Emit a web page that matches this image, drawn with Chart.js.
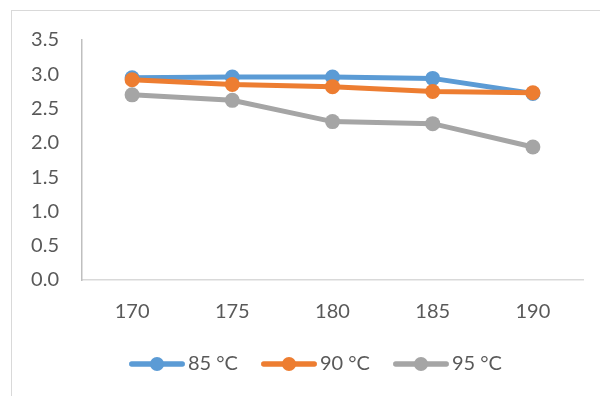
<!DOCTYPE html>
<html>
<head>
<meta charset="utf-8">
<script src="https://cdn.jsdelivr.net/npm/chart.js@4.4.0/dist/chart.umd.min.js"></script>
<style>
    html, body { margin: 0; padding: 0; background: #fff; }
    #wrap { position: relative; width: 600px; height: 396px; overflow: hidden; }
    #frame { position: absolute; left: 11px; top: 10px; width: 700px; height: 500px;
             border-left: 1px solid #d9d9d9; border-top: 1px solid #d9d9d9; }
    #chart { position: absolute; left: 0; top: 0; }
</style>
</head>
<body>
<div id="wrap">
    <div id="frame"></div>
    <canvas id="chart" width="600" height="396"></canvas>
</div>
<script>
const categories = ['170', '175', '180', '185', '190'];
const seriesNames = ['85 °C', '90 °C', '95 °C'];
const values85 = [2.95, 2.96, 2.96, 2.94, 2.72];
const values90 = [2.92, 2.85, 2.82, 2.75, 2.73];
const values95 = [2.70, 2.62, 2.31, 2.28, 1.94];
const colors = ['#5b9bd5', '#ed7d31', '#a5a5a5'];

const FONT = "Lato, 'Open Sans', sans-serif";
const TEXT = '#595959';

// legend symbol: line with a dot in the middle
function legendSymbol(color) {
    const c = document.createElement('canvas');
    c.width = 56; c.height = 16;
    const g = c.getContext('2d');
    g.strokeStyle = color;
    g.lineWidth = 5.3;
    g.lineCap = 'round';
    g.beginPath();
    g.moveTo(2.7, 8); g.lineTo(53.3, 8);
    g.stroke();
    g.fillStyle = color;
    g.beginPath();
    g.arc(28, 8, 7, 0, Math.PI * 2);
    g.fill();
    return c;
}

const seriesValues = [values85, values90, values95];

const datasets = seriesValues.map((vals, i) => ({
    label: seriesNames[i],
    data: vals,
    borderColor: colors[i],
    backgroundColor: colors[i],
    pointBackgroundColor: colors[i],
    pointBorderColor: colors[i],
    borderWidth: 5,
    pointRadius: 7.5,
    pointBorderWidth: 0,
    tension: 0,
    order: 3 - i,   // later series drawn on top
    legendImg: legendSymbol(colors[i])
}));

// move the legend row to where the original has it
const legendShift = {
    id: 'legendShift',
    afterLayout(chart) {
        chart.legend.left = 106;
    }
};

new Chart(document.getElementById('chart').getContext('2d'), {
    type: 'line',
    data: { labels: categories, datasets: datasets },
    plugins: [legendShift],
    options: {
        responsive: false,
        animation: false,
        layout: { padding: { left: 0, right: 17, top: 40, bottom: 12 } },
        plugins: {
            tooltip: { enabled: false },
            legend: {
                position: 'bottom',
                align: 'start',
                labels: {
                    usePointStyle: true,
                    pointStyleWidth: 42,
                    padding: 30,
                    color: TEXT,
                    font: { family: FONT, size: 20 },
                    generateLabels: (chart) => chart.data.datasets.map((ds, i) => ({
                        text: ds.label,
                        pointStyle: ds.legendImg,
                        fillStyle: ds.borderColor,
                        strokeStyle: ds.borderColor,
                        lineWidth: 0,
                        fontColor: TEXT,
                        hidden: false,
                        datasetIndex: i
                    }))
                }
            }
        },
        scales: {
            x: {
                type: 'category',
                offset: true,
                grid: { display: false, drawTicks: false },
                border: { display: true, color: '#d9d9d9', width: 1.5 },
                ticks: { color: TEXT, font: { family: FONT, size: 20 }, padding: 20, maxRotation: 0 },
                afterFit: (scale) => { scale.height -= 20; }
            },
            y: {
                min: 0,
                max: 3.5,
                grid: { display: false, drawTicks: false },
                border: { display: true, color: '#bfbfbf', width: 1.5 },
                ticks: {
                    stepSize: 0.5,
                    color: TEXT,
                    padding: 23,
                    font: { family: FONT, size: 20 },
                    callback: (v) => Number(v).toFixed(1)
                },
                afterFit: (scale) => { scale.width = 82; }
            }
        }
    }
});
</script>
</body>
</html>
